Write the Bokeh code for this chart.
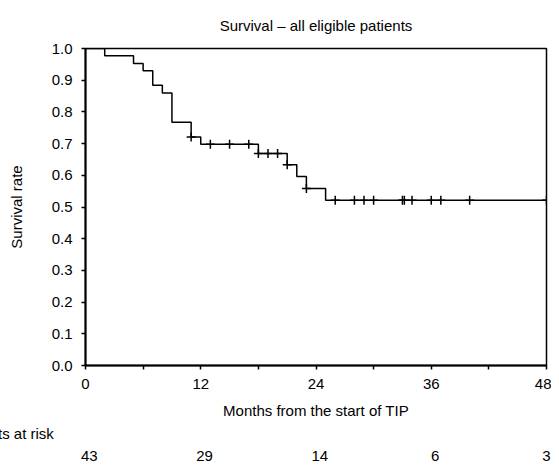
import numpy as np
from bokeh.plotting import figure
from bokeh.models import Range1d, FixedTicker, PrintfTickFormatter, LinearAxis, Title
from bokeh.embed import file_html
from bokeh.resources import INLINE

# ---- data ----
event_times = [0, 2, 5, 6, 7, 8, 9, 11, 12, 18, 21, 22, 23, 25]
survival = [1.0, 0.977, 0.953, 0.930, 0.884, 0.860, 0.767, 0.721, 0.698,
            0.669, 0.633, 0.596, 0.558, 0.521]
follow_up_end = 48
censor_times = [11, 13, 15, 17, 18, 19, 20, 21, 23, 26, 28, 29, 30, 33, 33.2,
                34, 36, 37, 40, 48]
risk_months = [0, 12, 24, 36, 48]
at_risk = [43, 29, 14, 6, 3]
x_ticks = [0, 6, 12, 18, 24, 30, 36, 42, 48]
x_tick_labels = ["0", "", "12", "", "24", "", "36", "", "48"]
y_ticks = [0.0, 0.1, 0.2, 0.3, 0.4, 0.5, 0.6, 0.7, 0.8, 0.9, 1.0]

FONT = "Liberation Sans"
W, H = 551, 463
LEFT, RIGHT = 85, 5

p = figure(width=W, height=H, output_backend="svg", toolbar_location=None,
           x_range=Range1d(0, 48), y_range=Range1d(0, 1),
           min_border_left=LEFT, min_border_right=RIGHT, min_border_top=47,
           min_border_bottom=H - 367,
           title="Survival \u2013 all eligible patients")
p.title.align = "center"
p.title.text_font = FONT
p.title.text_font_size = "15px"
p.title.text_font_style = "normal"
p.title.text_color = "black"
p.title.standoff = 29
p.grid.visible = False
p.background_fill_color = "white"
p.border_fill_color = "white"
p.outline_line_color = "black"
p.outline_line_width = 1.5
p.outline_line_alpha = 1.0

# step curve
sx = list(event_times) + [follow_up_end]
sy = list(survival) + [survival[-1]]
p.step(sx, sy, mode="after", line_color="black", line_width=1.5)

# censor marks
idx = np.searchsorted(np.array(event_times, dtype=float),
                      np.array(censor_times, dtype=float), side="right") - 1
cy = [survival[i] for i in idx]
p.scatter(censor_times, cy, marker="cross", size=9, line_color="black", line_width=1.5)

# axes
for ax in (p.xaxis[0], p.yaxis[0]):
    ax.axis_line_width = 2
    ax.axis_line_color = "black"
    ax.major_tick_in = 0
    ax.major_tick_out = 4
    ax.major_tick_line_width = 1.5
    ax.minor_tick_line_color = None
    ax.major_label_text_font = FONT
    ax.major_label_text_font_size = "15px"
    ax.major_label_text_color = "black"
    ax.axis_label_text_font = FONT
    ax.axis_label_text_font_size = "15px"
    ax.axis_label_text_font_style = "normal"
    ax.axis_label_text_color = "black"

p.xaxis.ticker = FixedTicker(ticks=x_ticks)
p.xaxis.major_label_overrides = {t: l for t, l in zip(x_ticks, x_tick_labels)}
p.xaxis.major_label_standoff = 9
p.xaxis.axis_label = "Months from the start of TIP"
p.xaxis.axis_label_standoff = 10

p.yaxis.ticker = FixedTicker(ticks=y_ticks)
p.yaxis.formatter = PrintfTickFormatter(format="%.1f")
p.yaxis.major_label_standoff = 9
p.yaxis.axis_label = "Survival rate"
p.yaxis.axis_label_standoff = 24

# ---- patients at risk ----
p.add_layout(Title(text="Patients at risk", align="left", offset=-130,
                   text_font=FONT, text_font_size="15px", text_font_style="normal",
                   text_color="black", standoff=3), "below")

risk_pos = [min(m + 0.4, 48) for m in risk_months]
risk_axis = LinearAxis(ticker=FixedTicker(ticks=risk_pos),
                       major_label_overrides={x: str(n) for x, n in zip(risk_pos, at_risk)},
                       axis_line_color=None, major_tick_line_color=None,
                       minor_tick_line_color=None, major_label_standoff=1,
                       major_label_text_font=FONT, major_label_text_font_size="15px",
                       major_label_text_color="black")
p.add_layout(risk_axis, "below")

open("out.html", "w").write(file_html(p, INLINE))
